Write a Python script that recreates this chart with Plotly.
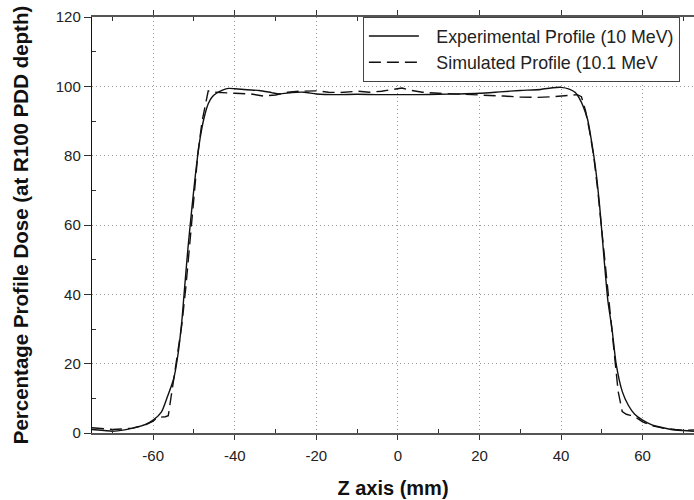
import plotly.graph_objects as go

# Lateral position along the Z axis (mm) and percentage dose, measured profile
z_exp = [-75, -72, -70, -67, -65, -62, -60, -58, -56.5, -55, -54, -53, -52.5, -51.5,
         -50.5, -49.5, -48.5, -47.5, -46.5, -45.5, -44.5, -43, -41.5, -40, -37, -34,
         -31, -29, -26, -23, -20, -15, -10, -5, 0, 5, 10, 15, 20, 25, 30, 35, 38, 40,
         42, 43.5, 44.5, 45.5, 46.5, 47.5, 48.5, 49.5, 50.5, 51.5, 52.5, 53.5, 55,
         56.5, 58, 60, 62, 65, 67, 70, 72.6]
dose_exp = [1.0, 0.7, 0.5, 0.9, 1.4, 2.4, 3.7, 6.0, 10.5, 15.5, 22, 32, 39, 53,
            65, 76, 85, 91, 95, 97, 98.0, 98.9, 99.4, 99.3, 99.0, 98.8,
            98.2, 97.8, 98.2, 98.3, 97.8, 97.6, 97.7, 97.6, 97.6, 97.6, 97.7, 97.8, 98.0,
            98.4, 98.8, 99.1, 99.6, 99.7,
            99.2, 98.2, 96.5, 94.0, 90.5, 84, 76, 65, 51, 38, 30, 20, 12,
            8, 5.5, 3.7, 2.5, 1.5, 1.0, 0.7, 0.5]

# Simulated profile (Monte Carlo, 10.1 MeV)
z_sim = [-75, -72, -70, -67, -65, -62, -60, -59, -58, -57, -56.3, -55.5, -55, -54,
         -53, -52, -51, -50, -49, -48, -47, -46.5, -45, -42, -40, -36, -33, -30, -27,
         -24, -20, -17, -14, -10, -7, -4, -2, 0, 1, 3, 6, 10, 14, 18, 22, 26, 30, 34,
         38, 42, 44, 45, 46, 47, 48, 49, 50, 51, 52, 53, 54, 55, 56, 57, 58, 59, 60,
         62, 65, 68, 70, 72.6]
dose_sim = [1.5, 1.2, 1.0, 1.2, 1.4, 2.3, 3.4, 4.5, 4.6, 4.7, 5.0, 11, 16, 23,
            31, 42, 55, 68, 81, 90, 96, 98.7, 98.3, 98.0, 98.0, 97.8, 97.2, 97.5, 98.3,
            98.6, 98.7, 98.3, 98.2, 98.6, 98.3, 98.6, 99.0, 99.4, 99.5, 98.9, 98.3, 98.0,
            97.8, 97.8, 97.6, 97.2, 96.9, 96.8,
            97.0, 97.5, 97.6, 97.0, 93, 87, 80, 70, 58, 46, 34, 22, 12, 6.2, 5.4, 5.1,
            4.8, 4.0, 3.2, 2.2, 1.4, 1.0, 0.8, 0.9]

series_names = ["Experimental Profile (10 MeV)", "Simulated Profile (10.1 MeV"]

x_ticks = [-60, -40, -20, 0, 20, 40, 60]
x_minor = [-70, -50, -30, -10, 10, 30, 50, 70]
y_ticks = [0, 20, 40, 60, 80, 100, 120]
y_minor = [10, 30, 50, 70, 90, 110]

FONT = "Liberation Sans, Arial, sans-serif"
GAP = "\u2002\u2009"  # extra space between legend sample and label

fig = go.Figure()
fig.add_trace(go.Scatter(
    x=z_exp, y=dose_exp, mode="lines", name=GAP + series_names[0],
    line=dict(color="#111111", width=1.4, shape="spline", smoothing=0.6),
))
fig.add_trace(go.Scatter(
    x=z_sim, y=dose_sim, mode="lines", name=GAP + series_names[1],
    line=dict(color="#111111", width=1.4, dash="12px,6px"),
))

fig.update_layout(
    width=694, height=500,
    margin=dict(l=92, r=0, t=17, b=67),
    paper_bgcolor="white", plot_bgcolor="white",
    font=dict(family=FONT, size=15, color="#222222"),
    showlegend=True,
    legend=dict(
        x=0.45, y=1.0, xanchor="left", yanchor="top",
        bgcolor="white", bordercolor="#444444", borderwidth=1,
        font=dict(family=FONT, size=17.8, color="#222222"),
        itemwidth=50,
    ),
)

GRID = dict(showgrid=True, gridcolor="#999999", griddash="1px,3px", gridwidth=1)

fig.update_xaxes(
    range=[-75, 72.6], tickvals=x_ticks, ticktext=[str(v) for v in x_ticks],
    showline=True, linecolor="#555555", linewidth=1.8, mirror="ticks",
    ticks="outside", ticklen=5, tickcolor="#333333", ticklabelstandoff=3,
    minor=dict(tickmode="array", tickvals=x_minor, ticks="inside", ticklen=4,
               tickcolor="#333333", tickwidth=1, showgrid=False),
    zeroline=False,
    title=dict(text="<b>Z axis (mm)</b>", font=dict(family=FONT, size=20, color="#111111"), standoff=18),
    tickfont=dict(size=15),
    **GRID,
)
fig.update_yaxes(
    range=[0, 120], tickvals=y_ticks, ticktext=[str(v) for v in y_ticks],
    showline=True, linecolor="#111111", linewidth=1.4,
    ticks="outside", ticklen=7, tickcolor="#333333",
    minor=dict(tickmode="array", tickvals=y_minor, ticks="inside", ticklen=4,
               tickcolor="#333333", tickwidth=1, showgrid=False),
    zeroline=False,
    title=dict(text="<b>Percentage Profile Dose (at R100 PDD depth)</b>",
               font=dict(family=FONT, size=20.5, color="#111111"), standoff=21),
    tickfont=dict(size=15),
    **GRID,
)

fig.write_html("out.html")
